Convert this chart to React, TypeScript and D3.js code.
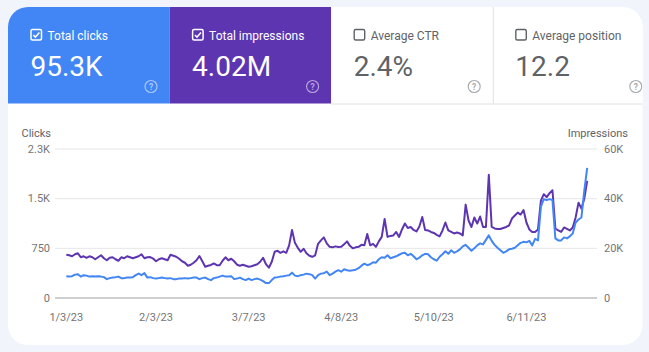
import React from 'react';
import * as d3 from 'd3';

// daily values, 1/3/23 .. 7/2/23
const clicks = [
  330, 323, 330, 353, 360, 323, 345, 338, 323, 330,
  323, 330, 323, 315, 285, 300, 308, 315, 323, 300,
  300, 308, 308, 315, 345, 368, 345, 375, 308, 315,
  300, 293, 300, 308, 300, 293, 300, 285, 285, 293,
  293, 300, 293, 300, 308, 308, 285, 300, 308, 285,
  270, 300, 308, 323, 338, 323, 323, 330, 285, 293,
  308, 285, 270, 293, 270, 285, 293, 278, 255, 225,
  225, 270, 308, 315, 323, 330, 338, 345, 383, 338,
  330, 345, 353, 368, 360, 345, 293, 345, 368, 375,
  398, 345, 368, 398, 420, 398, 435, 420, 413, 420,
  428, 450, 488, 518, 495, 510, 540, 533, 585, 615,
  608, 645, 600, 615, 630, 653, 675, 683, 645, 668,
  630, 585, 608, 645, 668, 660, 615, 585, 563, 623,
  660, 705, 668, 720, 683, 705, 735, 780, 803, 758,
  713, 750, 795, 825, 810, 878, 945, 863, 803, 758,
  720, 683, 705, 735, 743, 758, 795, 833, 848, 840,
  863, 795, 893, 870, 1380, 1493, 1478, 1493, 1478, 900,
  870, 870, 915, 900, 930, 975, 1140, 1185, 1215, 1620,
  1965
];

const impressions = [
  17400, 17200, 16800, 17600, 18000, 16400, 16800, 16200, 16800, 16400,
  15600, 16400, 17200, 16000, 15200, 16200, 16400, 15600, 15000, 16400,
  16000, 16800, 16400, 16000, 16400, 16800, 17600, 16000, 16400, 16500,
  15900, 14800, 15600, 16000, 15600, 15200, 17400, 17000, 16600, 15800,
  14800, 14200, 13000, 13400, 14200, 15200, 16900, 14800, 12600, 13000,
  13300, 13900, 13200, 13200, 15000, 16400, 15200, 15800, 14800, 13400,
  13000, 13400, 13000, 12600, 12800, 13200, 13600, 14600, 16200, 13600,
  12200, 14600, 18600, 19000, 18200, 18800, 18200, 21200, 27400, 22200,
  20200, 18600, 19800, 18000, 17000, 16600, 17200, 21800, 23200, 24400,
  22000, 20600, 20400, 20800, 20500, 20600, 21600, 22800, 21000, 20000,
  20400, 20600, 21400, 21200, 25800, 21200, 21800, 20600, 22800, 24600,
  31800, 24600, 25000, 25200, 26600, 24600, 27600, 30000, 28200, 28600,
  27400, 26800, 28800, 32600, 27400, 27200, 26600, 26200, 25400, 24800,
  27200, 30400, 27200, 26600, 26000, 26400, 26000, 25200, 37600, 31200,
  28600, 32400, 30000, 32800, 28600, 28600, 49600, 28600, 28000, 27800,
  27800, 28200, 28600, 29200, 32000, 33200, 34400, 33600, 35400, 30400,
  27600, 26600, 26600, 27600, 39200, 41800, 40600, 42200, 43400, 28000,
  27200, 26600, 28400, 27800, 27200, 28400, 32400, 38400, 36000, 40000,
  47200
];

const startDate = new Date(2023, 0, 3);
const xTickDates = [
  new Date(2023, 0, 3), new Date(2023, 1, 3), new Date(2023, 2, 7),
  new Date(2023, 3, 8), new Date(2023, 4, 10), new Date(2023, 5, 11)
];
const clickTicks = [0, 750, 1500, 2250];
const clickTickLabels = ['0', '750', '1.5K', '2.3K'];
const imprTicks = [0, 20000, 40000, 60000];
const imprTickLabels = ['0', '20K', '40K', '60K'];

const metricLabels = ['Total clicks', 'Total impressions', 'Average CTR', 'Average position'];
const metricValues = ['95.3K', '4.02M', '2.4%', '12.2'];
const metricSelected = [true, true, false, false];
const metricColors = ['#4285f4', '#5e35b1', '#ffffff', '#ffffff'];

const W = 649;
const H = 352;
const FONT = 'Roboto, "Noto Sans", sans-serif';

const card = { x: 8, y: 7, w: 634.5, h: 338, r: 20 };
const tileW = 161.6;
const tileH = 96.5;

function HelpIcon({ cx, cy, color }: { cx: number; cy: number; color: string }) {
  return (
    <g>
      <circle cx={cx} cy={cy} r={6} fill="none" stroke={color} strokeWidth={1.2} />
      <text x={cx} y={cy + 3.2} textAnchor="middle" fontSize={8.5} fontWeight={700} fill={color} fontFamily={FONT}>?</text>
    </g>
  );
}

export default function App() {
  const dates = clicks.map((_, i) => d3.timeDay.offset(startDate, i));

  const x = d3.scaleTime()
    .domain([dates[0], dates[dates.length - 1]])
    .range([66.3, 587.2]);
  const yLeft = d3.scaleLinear().domain([0, 2250]).range([298, 149]);
  const yRight = d3.scaleLinear().domain([0, 60000]).range([298, 149]);

  const clickLine = d3.line<number>()
    .x((_, i) => x(dates[i]))
    .y(d => yLeft(d));
  const imprLine = d3.line<number>()
    .x((_, i) => x(dates[i]))
    .y(d => yRight(d));

  const fmt = d3.timeFormat('%-m/%-d/%y');
  const gridX0 = 55;
  const gridX1 = 597;

  return (
    <svg width={W} height={H} style={{ position: 'fixed', left: 0, top: 0 }} fontFamily={FONT}>
      <defs>
        <clipPath id="cardClip">
          <rect x={card.x} y={card.y} width={card.w} height={card.h} rx={card.r} />
        </clipPath>
      </defs>
      <rect width={W} height={H} fill="#f1f4fb" />
      <rect x={card.x} y={card.y} width={card.w} height={card.h} rx={card.r} fill="#ffffff" />

      {/* metric tiles */}
      <g clipPath="url(#cardClip)">
        {metricLabels.map((label, i) => {
          const tx = card.x + i * tileW;
          const sel = metricSelected[i];
          const fg = sel ? '#ffffff' : '#5f6368';
          const cbx = tx + 23;
          const cby = 29.5;
          return (
            <g key={label}>
              <rect x={tx} y={card.y} width={tileW} height={tileH} fill={metricColors[i]} />
              {!sel && i > 2 && (
                <line x1={tx + 0.5} x2={tx + 0.5} y1={card.y} y2={card.y + tileH} stroke="#e0e0e0" />
              )}
              {sel ? (
                <g>
                  <rect x={cbx} y={cby} width={10.5} height={10.5} rx={1.5} fill="none" stroke="#ffffff" strokeWidth={1.5} />
                  <path d={`M${cbx + 2.3},${cby + 5.4} L${cbx + 4.4},${cby + 7.6} L${cbx + 8.4},${cby + 3}`} fill="none" stroke="#ffffff" strokeWidth={1.5} />
                </g>
              ) : (
                <rect x={cbx} y={cby} width={10.5} height={10.5} rx={1.5} fill="none" stroke="#5f6368" strokeWidth={1.4} />
              )}
              <text x={tx + 39.5} y={39.5} fontSize={12} fill={fg}>{label}</text>
              <text x={tx + 22.5} y={76} fontSize={28} fill={fg}>{metricValues[i]}</text>
              <HelpIcon cx={tx + 143} cy={86.5} color={sel ? 'rgba(255,255,255,0.55)' : '#a8abaf'} />
            </g>
          );
        })}
        <line x1={card.x + 2 * tileW} x2={card.x + card.w} y1={card.y + tileH + 0.5} y2={card.y + tileH + 0.5} stroke="#e0e0e0" />
      </g>

      {/* axis titles */}
      <text x={51} y={136.5} textAnchor="end" fontSize={11} fill="#5f6368">Clicks</text>
      <text x={628} y={136.5} textAnchor="end" fontSize={11} fill="#5f6368">Impressions</text>

      {/* grid */}
      {clickTicks.map((t, i) => (
        <g key={`l${t}`}>
          <line x1={gridX0} x2={gridX1} y1={yLeft(t)} y2={yLeft(t)} stroke={t === 0 ? '#9e9e9e' : '#e6e6e6'} strokeWidth={1} />
          <text x={50} y={yLeft(t) + 3.8} textAnchor="end" fontSize={11} fill="#757575">{clickTickLabels[i]}</text>
        </g>
      ))}
      {imprTicks.map((t, i) => (
        <text key={`r${t}`} x={604} y={yRight(t) + 3.8} fontSize={11} fill="#757575">{imprTickLabels[i]}</text>
      ))}
      {xTickDates.map(d => (
        <text key={d.getTime()} x={x(d)} y={320.5} textAnchor="middle" fontSize={11} fill="#757575">{fmt(d)}</text>
      ))}

      {/* lines */}
      <path d={imprLine(impressions) || ''} fill="none" stroke="#5e35b1" strokeWidth={2} strokeLinejoin="round" />
      <path d={clickLine(clicks) || ''} fill="none" stroke="#4285f4" strokeWidth={2} strokeLinejoin="round" />
    </svg>
  );
}
